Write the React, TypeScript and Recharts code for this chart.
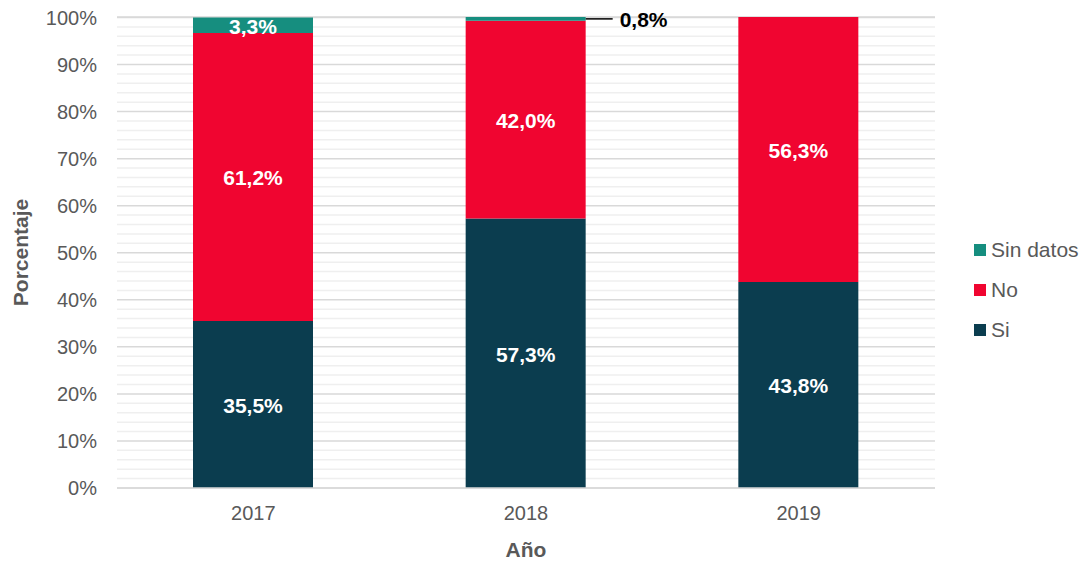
import React from 'react';
import { BarChart, Bar, XAxis, YAxis, CartesianGrid, Legend, LabelList } from 'recharts';

const years = ['2017', '2018', '2019'];
const si = [35.5, 57.3, 43.8];
const no = [61.2, 42.0, 56.3];
const sinDatos = [3.3, 0.8, 0];
const yTicks = [0, 10, 20, 30, 40, 50, 60, 70, 80, 90, 100];
const minorTicks = [2, 4, 6, 8, 12, 14, 16, 18, 22, 24, 26, 28, 32, 34, 36, 38, 42, 44, 46, 48, 52, 54, 56, 58, 62, 64, 66, 68, 72, 74, 76, 78, 82, 84, 86, 88, 92, 94, 96, 98];

const data = years.map((y, i) => ({ year: y, si: si[i], no: no[i], sd: sinDatos[i] }));

const FONT = '"Liberation Sans", Arial, Helvetica, sans-serif';
const C_SI = '#0b3d4f';
const C_NO = '#f00530';
const C_SD = '#168e7f';
const fmt = (v: number) => v.toFixed(1).replace('.', ',') + '%';

const InsideLabel = (props: any) => {
  const { x, y, width, height, value } = props;
  if (!value) return null;
  return (
    <text x={x + width / 2} y={y + height / 2 + 1} textAnchor="middle" dominantBaseline="central"
      fill="#fff" fontSize={21} fontWeight="bold" fontFamily={FONT}>{fmt(value)}</text>
  );
};

const SdLabel = (props: any) => {
  const { x, y, width, height, value } = props;
  if (!value) return null;
  if (value < 2) {
    const ly = y + height / 2;
    return (
      <g>
        <line x1={x + width} y1={ly} x2={x + width + 27} y2={ly} stroke="#000" strokeWidth={1.5} />
        <text x={x + width + 34} y={ly + 1} dominantBaseline="central" fill="#000" fontSize={21}
          fontWeight="bold" fontFamily={FONT}>{fmt(value)}</text>
      </g>
    );
  }
  return <InsideLabel {...props} />;
};

const legendItems = [
  { label: 'Sin datos', color: C_SD },
  { label: 'No', color: C_NO },
  { label: 'Si', color: C_SI },
];

const LegendContent = () => (
  <div style={{ fontFamily: FONT }}>
    {legendItems.map((it) => (
      <div key={it.label} style={{ display: 'flex', alignItems: 'center', height: 40 }}>
        <div style={{ width: 12, height: 12, background: it.color, marginRight: 5 }} />
        <span style={{ fontSize: 21, color: '#595959' }}>{it.label}</span>
      </div>
    ))}
  </div>
);

const minorGen = (props: any) => {
  const ax = props && props.yAxis;
  let s: any = ax && ax.scale;
  if (s && typeof s !== 'function' && typeof s.map === 'function') s = s.map.bind(s);
  if (typeof s === 'function') {
    const out = minorTicks.map((v) => s(v)).filter((n: any) => typeof n === 'number' && isFinite(n));
    if (out.length) return out;
  }
  const o = props && props.offset;
  if (o) return minorTicks.map((v) => o.top + o.height * (1 - v / 100));
  return [];
};

export default function App() {
  return (
    <div style={{ position: 'absolute', left: 0, top: 0 }}>
      <BarChart width={1089} height={566} data={data} margin={{ top: 17, right: 39, bottom: 0, left: 0 }} barSize={120}>
        <CartesianGrid vertical={false} horizontalCoordinatesGenerator={minorGen} syncWithTicks={false} stroke="#efefef" strokeWidth={1.5} />
        <CartesianGrid vertical={false} stroke="#d9d9d9" strokeWidth={1.5} />
        <XAxis dataKey="year" height={78} tickLine={false} axisLine={{ stroke: '#d9d9d9', strokeWidth: 1.5 }}
          tick={{ fontSize: 20, fill: '#595959', fontFamily: FONT }} tickMargin={12}
          label={{ value: 'Año', position: 'insideBottom', offset: 9, fontSize: 21, fontWeight: 'bold', fill: '#595959', fontFamily: FONT }} />
        <YAxis width={117} domain={[0, 100]} ticks={yTicks} axisLine={false} tickLine={false}
          tickFormatter={(v: number) => v + '%'} tickMargin={14}
          tick={{ fontSize: 20, fill: '#595959', fontFamily: FONT }}
          label={{
            content: (p: any) => {
              const vb = p.viewBox;
              const cx = 20;
              const cy = vb.y + vb.height / 2;
              return (
                <text x={cx} y={cy} transform={`rotate(-90 ${cx} ${cy})`} textAnchor="middle" dominantBaseline="central"
                  fontSize={21} fontWeight="bold" fill="#595959" fontFamily={FONT}>Porcentaje</text>
              );
            },
          }} />
        <Legend layout="vertical" align="right" verticalAlign="top" content={<LegendContent />}
          wrapperStyle={{ position: 'absolute', left: 974, top: 230, width: 115 }} />
        <Bar dataKey="si" name="Si" stackId="a" fill={C_SI} isAnimationActive={false}>
          <LabelList dataKey="si" content={<InsideLabel />} />
        </Bar>
        <Bar dataKey="no" name="No" stackId="a" fill={C_NO} isAnimationActive={false}>
          <LabelList dataKey="no" content={<InsideLabel />} />
        </Bar>
        <Bar dataKey="sd" name="Sin datos" stackId="a" fill={C_SD} isAnimationActive={false}>
          <LabelList dataKey="sd" content={<SdLabel />} />
        </Bar>
      </BarChart>
    </div>
  );
}
